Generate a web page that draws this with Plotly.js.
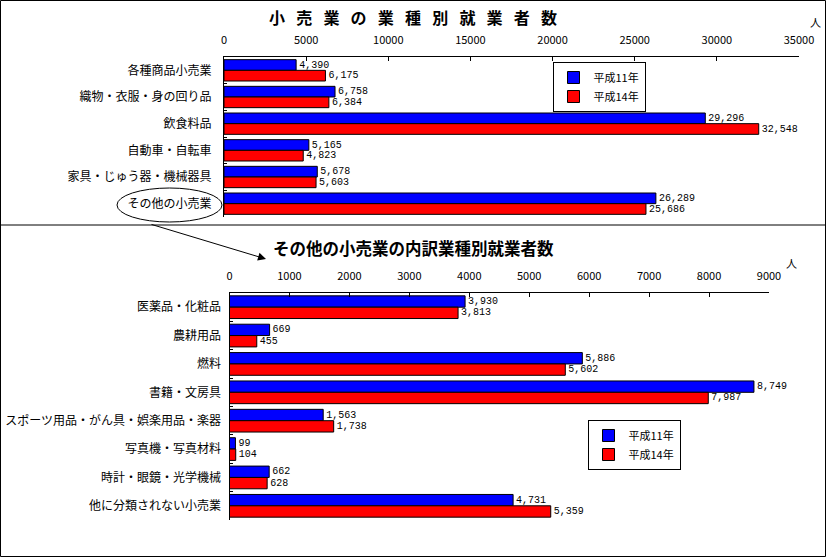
<!DOCTYPE html>
<html><head><meta charset="utf-8">
<script src="https://cdn.plot.ly/plotly-3.0.1.min.js"></script>
<style>html,body{margin:0;padding:0;background:#fff}#c{width:826px;height:557px}</style>
</head><body><div id="c"></div>
<script>
const topCategories = ['各種商品小売業','織物・衣服・身の回り品','飲食料品','自動車・自転車','家具・じゅう器・機械器具','その他の小売業'];
const topH11 = [4390, 6758, 29296, 5165, 5678, 26289];
const topH14 = [6175, 6384, 32548, 4823, 5603, 25686];

const subCategories = ['医薬品・化粧品','農耕用品','燃料','書籍・文房具','スポーツ用品・がん具・娯楽用品・楽器','写真機・写真材料','時計・眼鏡・光学機械','他に分類されない小売業'];
const subH11 = [3930, 669, 5886, 8749, 1563, 99, 662, 4731];
const subH14 = [3813, 455, 5602, 7987, 1738, 104, 628, 5359];

const seriesNames = ['平成11年','平成14年'];
const topTitle = '小 売 業 の 業 種 別 就 業 者 数';
const subTitle = 'その他の小売業の内訳業種別就業者数';
const unitLabel = '人';

const F = '"Noto Sans CJK JP", sans-serif';
const FN = '"Liberation Mono", "DejaVu Sans Mono", monospace';
const W = 826, H = 557;
const px = v => v / W;
const py = v => (H - v) / H;

function bar(x, y, name, color, xa, ya, leg, show) {
  return {
    type: 'bar', orientation: 'h', x: x, y: y, name: name,
    xaxis: xa, yaxis: ya, legend: leg, showlegend: show,
    marker: {color: color, line: {color: '#000', width: 1}},
    text: x.map(v => v.toLocaleString('en-US')),
    textposition: 'outside', constraintext: 'none', cliponaxis: false,
    textfont: {family: FN, size: 10, color: '#000'},
    hoverinfo: 'x+y'
  };
}

const data = [
  bar(topH11, topCategories, seriesNames[0], '#0000FF', 'x', 'y', 'legend', true),
  bar(topH14, topCategories, seriesNames[1], '#FF0000', 'x', 'y', 'legend', true),
  bar(subH11, subCategories, seriesNames[0], '#0000FF', 'x2', 'y2', 'legend2', true),
  bar(subH14, subCategories, seriesNames[1], '#FF0000', 'x2', 'y2', 'legend2', true)
];

const xCommon = {
  side: 'top', showgrid: false, zeroline: false, showline: true, linecolor: '#000', linewidth: 1,
  ticks: 'inside', ticklen: 4, tickcolor: '#000', ticklabelstandoff: 8, tickformat: 'd',
  tickfont: {family: F, size: 11, color: '#000'}, fixedrange: true
};
const yCommon = {
  autorange: 'reversed', showgrid: false, zeroline: false, showline: true, linecolor: '#000', linewidth: 1,
  ticks: 'inside', ticklen: 3, tickcolor: '#000', tickson: 'boundaries',
  tickfont: {family: F, size: 12, color: '#000'}, fixedrange: true
};

const legendCommon = {
  bordercolor: '#000', borderwidth: 1, bgcolor: '#fff',
  font: {family: F, size: 11, color: '#000'}, xanchor: 'center', yanchor: 'middle',
  tracegroupgap: 0, itemwidth: 30
};

const layout = {
  width: W, height: H, margin: {l: 0, r: 0, t: 0, b: 0},
  paper_bgcolor: '#fff', plot_bgcolor: 'rgba(0,0,0,0)',
  barmode: 'group', bargap: 0.2, bargroupgap: 0,
  font: {family: F, color: '#000'},
  xaxis: Object.assign({}, xCommon, {domain: [px(224), px(799)], range: [0, 35000], dtick: 5000, tick0: 0, anchor: 'y'}),
  yaxis: Object.assign({}, yCommon, {domain: [py(217), py(57)], anchor: 'x', ticklabelstandoff: 9}),
  xaxis2: Object.assign({}, xCommon, {domain: [px(229.5), px(769)], range: [0, 9000], dtick: 1000, tick0: 0, anchor: 'y2'}),
  yaxis2: Object.assign({}, yCommon, {domain: [py(520), py(293)], anchor: 'x2', ticklabelstandoff: 5}),
  legend: Object.assign({}, legendCommon, {x: px(599), y: py(87)}),
  legend2: Object.assign({}, legendCommon, {x: px(634), y: py(445)}),
  shapes: [
    {type: 'rect', xref: 'paper', yref: 'paper', x0: px(0.5), x1: px(825.5), y0: py(556.5), y1: py(0.5), line: {color: '#000', width: 1}},
    {type: 'line', xref: 'paper', yref: 'paper', x0: 0, x1: 1, y0: py(225), y1: py(225), line: {color: '#000', width: 1}},
    {type: 'circle', xref: 'paper', yref: 'paper', x0: px(117), x1: px(222), y0: py(222), y1: py(188), line: {color: '#000', width: 1}}
  ],
  annotations: [
    {xref: 'paper', yref: 'paper', x: px(413), y: py(17), xanchor: 'center', yanchor: 'middle', text: '<b>' + topTitle.replace(/ /g, '\u2002\u2009') + '</b>', showarrow: false, font: {family: F, size: 16, color: '#000'}},
    {xref: 'paper', yref: 'paper', x: px(413), y: py(248), xanchor: 'center', yanchor: 'middle', text: '<b>' + subTitle + '</b>', showarrow: false, font: {family: F, size: 16.5, color: '#000'}},
    {xref: 'paper', yref: 'paper', x: px(815), y: py(22), xanchor: 'center', yanchor: 'middle', text: unitLabel, showarrow: false, font: {family: F, size: 11, color: '#000'}},
    {xref: 'paper', yref: 'paper', x: px(791), y: py(263), xanchor: 'center', yanchor: 'middle', text: unitLabel, showarrow: false, font: {family: F, size: 11, color: '#000'}},
    {xref: 'paper', yref: 'paper', x: px(266), y: py(259), ax: -116, ay: -35, axref: 'pixel', ayref: 'pixel',
     text: '', showarrow: true, arrowhead: 2, arrowsize: 1.6, arrowwidth: 1, arrowcolor: '#000'}
  ]
};

Plotly.newPlot('c', data, layout, {staticPlot: true, displayModeBar: false});
</script>
</body></html>
